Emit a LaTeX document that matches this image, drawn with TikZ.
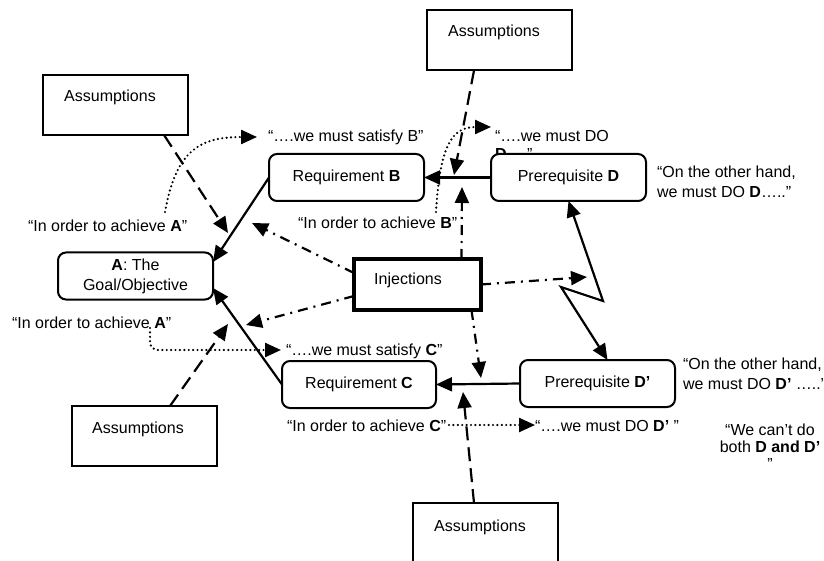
\documentclass[tikz,border=0pt]{standalone}
\usepackage{fontspec}
\setmainfont{Liberation Sans}
\usetikzlibrary{arrows.meta,calc}
\begin{document}
\begin{tikzpicture}[x=0.5pt,y=-0.5pt,
  every node/.style={font=\fontsize{8}{10}\selectfont, inner sep=0pt, outer sep=0pt},
  txt/.style={anchor=base west},
  mtxt/.style={anchor=west, align=left},
  asmbox/.style={draw, line width=1pt, fill=white, minimum width=72.5pt, minimum height=30pt},
  stepbox/.style={draw, line width=1pt, fill=white, rounded corners=4pt,
    minimum width=77.5pt, minimum height=23.5pt, align=center},
  injbox/.style={draw, line width=2pt, fill=white, minimum width=63.5pt, minimum height=25.5pt},
  headed/.style={-{Triangle[length=8pt,width=7pt]}},
  link/.style={headed, line width=1.1pt},
  asmlink/.style={headed, line width=1.1pt, dash pattern=on 7pt off 3.5pt},
  injlink/.style={headed, line width=1.1pt, dash pattern=on 5pt off 3pt on 1pt off 3pt},
  saylink/.style={headed, line width=1.2pt, dash pattern=on 0pt off 2.2pt, line cap=round},
]
\useasboundingbox (0,0) rectangle (824,561);
\clip (0,0) rectangle (824,561);

% spoken lines of the cloud
\node[txt] (t1) at (28,232) {“In order to achieve \textbf{A}”};
\node[txt] (t2) at (268,142) {“….we must satisfy B”};
\node[txt] (t3) at (298,229) {“In order to achieve \textbf{B}”};
\node[mtxt] (t4) at (495,145) {“….we must DO\\[-1pt]\textbf{D}….”};
\node[mtxt] (t5) at (657,182) {“On the other hand,\\we must DO \textbf{D}…..”};
\node[mtxt] (t6) at (683,373.5) {“On the other hand,\\we must DO \textbf{D’} …..”};
\node[txt] (t7) at (12,328) {“In order to achieve \textbf{A}”};
\node[txt] (t8) at (286,355) {“….we must satisfy \textbf{C}”};
\node[txt] (t9) at (287,431) {“In order to achieve \textbf{C}”};
\node[txt] (t10) at (535,431) {“….we must DO \textbf{D’} ”};
\node[align=center, anchor=north] (t11) at (770,424)
  {“We can’t do\\[-1.5pt]both \textbf{D and D’}\\[-1.5pt]”};

% assumption boxes
\node[asmbox] (a1) at (115.5,105) {};
\node[anchor=base] (a1t) at (110,102) {Assumptions};
\node[asmbox] (a2) at (499.5,40.5) {};
\node[anchor=base] (a2t) at (494,37) {Assumptions};
\node[asmbox] (a3) at (144,436) {};
\node[anchor=base] (a3t) at (138,433) {Assumptions};
\node[asmbox] (a4) at (485,533) {};
\node[anchor=base] (a4t) at (480,531) {Assumptions};

% cloud entities
\node[stepbox] (ga) at (135.5,276) {\textbf{A}: The\\Goal/Objective};
\node[stepbox] (rb) at (346.5,177.5) {Requirement \textbf{B}};
\node[stepbox] (pd) at (568.5,177.5) {Prerequisite \textbf{D}};
\node[stepbox, minimum width=77pt] (rc) at (359,384.5) {Requirement \textbf{C}};
\node[stepbox] (pd2) at (597.5,383.5) {Prerequisite \textbf{D’}};
\node[injbox] (inj) at (417.5,284.5) {};
\node[anchor=base] (injt) at (408,285) {Injections};

% necessity arrows
\draw[link] (rb.west) -- ([yshift=7pt]ga.east);
\draw[link] (rc.west) -- ([yshift=-6pt]ga.east);
\draw[link] (pd.west) -- (rb.east);
\draw[link] (pd2.west) -- (rc.east);

% conflict bolt
\coordinate (z1) at (603,301);
\coordinate (z2) at (561,287);
\draw[line width=1.1pt, {Triangle[length=8pt,width=7pt]}-{Triangle[length=8pt,width=7pt]}]
  (pd.south) -- (z1) -- (z2) -- ([xshift=5pt]pd2.north);

% injection arrows
\coordinate (iB) at (252,223);
\coordinate (iA) at (246,325);
\coordinate (iD) at (462,187);
\coordinate (iZ) at (587,277);
\coordinate (iC) at (481,378);
\draw[injlink] ([yshift=5.75pt]inj.west) -- (iB);
\draw[injlink] ([yshift=-5.75pt]inj.west) -- (iA);
\draw[injlink] ([xshift=22pt]inj.north) -- (iD);
\draw[injlink] (inj.east) -- (iZ);
\draw[injlink] ([xshift=27pt]inj.south) -- (iC);

% assumption arrows
\coordinate (q1) at (228,233);
\coordinate (q2) at (454,175);
\coordinate (q3) at (228,324);
\coordinate (q4) at (463,392);
\draw[asmlink] ([xshift=24.25pt]a1.south) -- (q1);
\draw[asmlink] ([xshift=-12.75pt]a2.south) -- (q2);
\draw[asmlink] ([xshift=13pt]a3.north) -- (q3);
\draw[asmlink] ([xshift=-5.5pt]a4.north) -- (q4);

% reading arrows
\coordinate (s1) at (165,212);
\coordinate (e1) at (257,137);
\coordinate (s2) at (436,212);
\coordinate (e2) at (491,127);
\coordinate (s3) at (150,328);
\coordinate (e3) at (281,350);
\coordinate (s4) at (449,425);
\coordinate (e4) at (535,425);
\draw[saylink] (s1) .. controls (176,150) and (200,137) .. (e1);
\draw[saylink] (s2) .. controls (440,145) and (452,127) .. (e2);
\draw[saylink, rounded corners=4pt] (s3) |- (e3);
\draw[saylink] (s4) -- (e4);
\end{tikzpicture}
\end{document}
